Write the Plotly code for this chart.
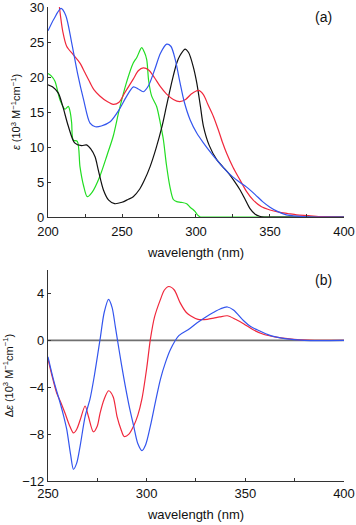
import plotly.graph_objects as go

# Panel (a): UV absorption, epsilon (10^3 M^-1 cm^-1)
blue_a_x = [200, 204, 208.8, 212, 216, 220, 224, 228.4, 232, 236, 242, 248, 253, 257.7, 261, 264.4, 268, 272, 276, 280.2, 283, 286, 289.2, 292, 296, 300.5, 305, 310, 315, 320, 325, 330, 334, 340, 345, 350, 355, 361, 370, 380, 400]
blue_a_y = [26.6, 28.3, 29.8, 28.8, 24.9, 20.5, 16.8, 13.4, 12.9, 13.0, 13.6, 15.3, 17.2, 18.6, 18.3, 17.9, 18.8, 21.0, 23.4, 24.7, 24.4, 22.5, 19.2, 16.5, 13.9, 12.0, 10.6, 9.2, 7.9, 6.7, 5.7, 4.9, 4.3, 3.2, 2.2, 1.4, 0.8, 0.3, 0.1, 0.0, 0.0]

red_a_x = [207.7, 210, 212.6, 217, 221.6, 225, 228.4, 231, 235, 240, 244, 248, 252, 257.6, 261, 264.4, 268, 272, 275.7, 280, 284.7, 289, 293, 297, 301.6, 305, 308, 311.7, 315, 318, 320.7, 325, 329.7, 334, 338.7, 344, 350, 356, 362, 368, 376, 385, 400]
red_a_y = [30.0, 26.5, 24.4, 23.2, 22.0, 20.6, 19.2, 18.2, 17.3, 16.5, 16.1, 16.4, 17.8, 19.7, 20.9, 21.3, 21.0, 19.9, 18.7, 17.6, 16.8, 16.5, 16.8, 17.6, 18.1, 17.5, 16.1, 14.4, 12.5, 10.6, 9.1, 7.1, 5.3, 3.7, 2.4, 1.5, 1.0, 0.7, 0.5, 0.3, 0.2, 0.05, 0.0]

black_a_x = [200, 203, 207, 210, 213.7, 218, 222.7, 226, 229, 231.8, 234, 237.4, 241, 245, 250, 254, 257.6, 262, 265, 269, 273, 277, 280, 284, 287, 289, 292.6, 295, 298, 300.5, 303, 305, 309, 314, 318, 321.8, 326, 329.7, 333, 336.5, 340, 343, 346, 350, 400]
black_a_y = [18.9, 18.6, 17.7, 15.8, 13.0, 10.6, 10.2, 10.3, 9.7, 8.6, 6.7, 3.9, 2.4, 1.9, 2.1, 2.5, 2.9, 4.0, 5.2, 7.2, 9.8, 12.9, 15.8, 19.6, 22.0, 23.0, 24.0, 23.5, 21.6, 19.2, 15.8, 13.0, 10.2, 8.2, 7.2, 6.3, 5.1, 3.9, 2.6, 1.2, 0.4, 0.1, 0.0, 0.0, 0.0]

green_a_x = [200, 202, 204.7, 208, 211.5, 213.7, 215, 216, 217, 219.8, 221.6, 224, 226.5, 230, 235, 240, 244, 248, 253, 257.6, 260, 263.3, 265, 266.7, 268, 270, 273.4, 276, 278, 280, 282.4, 284.7, 287, 290, 293.7, 296, 297.8, 299.3, 301, 303, 310, 350, 400]
green_a_y = [20.5, 20.2, 19.4, 16.8, 15.4, 15.8, 15.0, 13.4, 11.0, 10.8, 7.2, 4.5, 2.9, 3.6, 5.8, 8.9, 11.5, 15.2, 19.2, 22.0, 22.8, 24.2, 23.6, 22.5, 19.5, 17.3, 15.8, 13.3, 11.0, 7.5, 4.3, 2.5, 2.2, 2.1, 1.9, 1.4, 1.1, 0.8, 0.3, 0.0, 0.0, 0.0, 0.0]

# Panel (b): CD, delta epsilon (10^3 M^-1 cm^-1)
red_b_x = [250, 252, 254.4, 256.5, 258.6, 261, 262.9, 264.5, 266.3, 268.8, 270.5, 273, 275, 276.4, 278.5, 280.7, 283, 285, 287, 288.6, 291, 293.4, 295.5, 297.6, 300, 301.9, 304, 307, 309, 311.2, 314, 317, 320, 322.2, 326, 330.7, 334, 337, 340.9, 345, 349.3, 354, 359.5, 365, 371.4, 378, 385, 400]
red_b_y = [-1.6, -3.0, -4.5, -5.3, -6.2, -7.3, -7.9, -7.6, -6.8, -5.6, -6.5, -7.8, -7.3, -6.2, -5.0, -4.3, -4.8, -6.5, -7.6, -8.2, -8.0, -7.3, -6.4, -5.0, -2.4, 0.1, 2.0, 3.5, 4.3, 4.6, 4.3, 3.2, 2.4, 2.1, 1.8, 1.8, 1.9, 2.0, 2.1, 1.8, 1.4, 0.9, 0.5, 0.3, 0.15, 0.05, 0.0, 0.0]

blue_b_x = [250, 253, 256.1, 258, 259.5, 261.5, 262.9, 264.5, 266.3, 268.8, 271.3, 273.5, 276.4, 278.5, 280.7, 282.5, 284.1, 286, 288.3, 291, 293.4, 295.5, 297.6, 299.5, 301.9, 304.5, 307, 309.5, 312, 316.3, 321, 325.6, 330, 334, 337.5, 340.9, 344, 349.3, 352.5, 356, 362.9, 370, 380, 400]
blue_b_y = [-1.4, -3.5, -5.3, -6.5, -7.6, -9.8, -11.0, -10.5, -9.0, -6.5, -5.0, -3.0, 0.1, 2.4, 3.5, 2.8, 1.2, -0.8, -3.1, -5.5, -7.3, -8.8, -9.4, -8.9, -7.3, -5.2, -3.3, -1.9, -0.8, 0.4, 0.9, 1.5, 2.0, 2.4, 2.7, 2.85, 2.6, 1.65, 1.2, 0.9, 0.4, 0.15, 0.0, 0.0]

x_label = "wavelength (nm)"
ya_label = "<i>ε</i> (10<sup>3</sup> M<sup>−1</sup>cm<sup>−1</sup>)"
yb_label = "Δ<i>ε</i> (10<sup>3</sup> M<sup>−1</sup>cm<sup>−1</sup>)"

FONT = "Liberation Sans, Arial, sans-serif"
BLUE = "#3355ee"
RED = "#f0283c"
BLACK = "#111111"
GREEN = "#22dd22"

fig = go.Figure()
lw = 1.2
for xs, ys, c in [(green_a_x, green_a_y, GREEN), (black_a_x, black_a_y, BLACK),
                  (red_a_x, red_a_y, RED), (blue_a_x, blue_a_y, BLUE)]:
    fig.add_trace(go.Scatter(x=xs, y=ys, mode="lines", line=dict(color=c, width=lw, shape="spline", smoothing=0.8),
                             xaxis="x", yaxis="y", showlegend=False, hoverinfo="skip", cliponaxis=False))

# zero line in panel b
fig.add_trace(go.Scatter(x=[250, 400], y=[0, 0], mode="lines", line=dict(color="#707070", width=1.8),
                         xaxis="x2", yaxis="y2", showlegend=False, hoverinfo="skip"))
for xs, ys, c in [(red_b_x, red_b_y, RED), (blue_b_x, blue_b_y, BLUE)]:
    fig.add_trace(go.Scatter(x=xs, y=ys, mode="lines", line=dict(color=c, width=lw, shape="spline", smoothing=0.8),
                             xaxis="x2", yaxis="y2", showlegend=False, hoverinfo="skip"))

axis_common = dict(showgrid=False, zeroline=False, showline=True, linecolor="#333333", linewidth=1.2,
                   ticks="inside", ticklen=3, tickcolor="#333333", tickwidth=1, automargin=False,
                   ticklabeloverflow="allow",
                   tickfont=dict(family=FONT, size=13, color="#111111"))

fig.update_layout(
    width=356, height=525,
    margin=dict(l=48, r=12, t=7, b=44, pad=0),
    paper_bgcolor="white", plot_bgcolor="white",
    font=dict(family=FONT, color="#111111"),
    xaxis=dict(domain=[0, 1], range=[200, 400.01], tickvals=[200, 250, 300, 350, 400],
               minor=dict(tickvals=[225, 275, 325, 375], ticks="inside", ticklen=3, tickcolor="#333333"),
               anchor="y", ticklabelstandoff=2,
               title=dict(text=x_label, font=dict(family=FONT, size=13), standoff=10), **axis_common),
    yaxis=dict(domain=[0.557, 1], range=[0, 30.01], tickvals=[0, 5, 10, 15, 20, 25, 30], anchor="x",
               title=dict(text=ya_label, font=dict(family=FONT, size=11), standoff=6), **axis_common),
    xaxis2=dict(domain=[0, 1], range=[250, 400.01], tickvals=[250, 300, 350, 400],
                minor=dict(tickvals=[275, 325, 375], ticks="inside", ticklen=3, tickcolor="#333333"),
                anchor="y2", ticklabelstandoff=0,
                title=dict(text=x_label, font=dict(family=FONT, size=13), standoff=10), **axis_common),
    yaxis2=dict(domain=[0, 0.445], range=[-12, 6], tickvals=[-12, -8, -4, 0, 4], anchor="x2",
                title=dict(text=yb_label, font=dict(family=FONT, size=11), standoff=6), **axis_common),
    annotations=[
        dict(text="(a)", x=0.93, y=1.0, xref="paper", yref="paper", xanchor="center", yanchor="top",
             showarrow=False, font=dict(family=FONT, size=14)),
        dict(text="(b)", x=0.93, y=0.445, xref="paper", yref="paper", xanchor="center", yanchor="top",
             showarrow=False, font=dict(family=FONT, size=14)),
    ],
)

fig.write_html("out.html", config={"displayModeBar": False},
               post_script="document.body.style.margin='0';document.body.style.overflow='hidden';")
